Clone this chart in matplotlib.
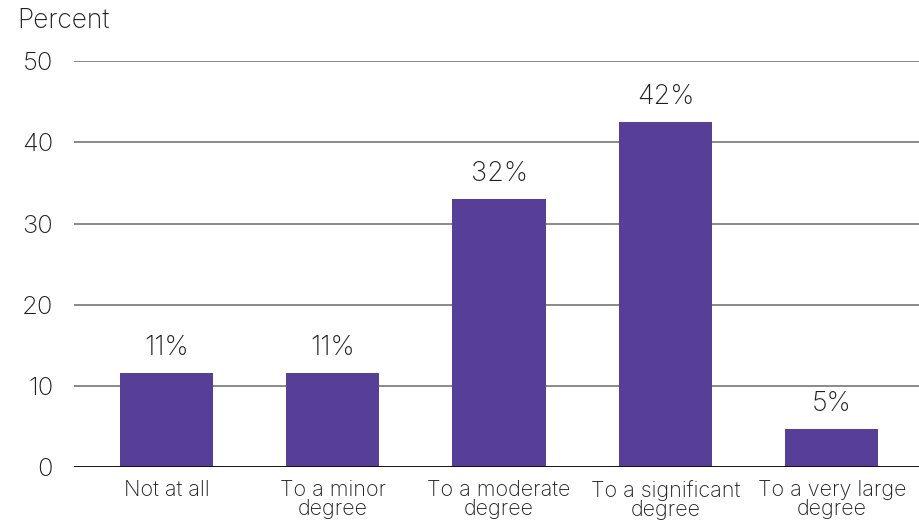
import matplotlib
matplotlib.use("Agg")
import matplotlib.pyplot as plt

categories = ["Not at all", "To a minor\ndegree", "To a moderate\ndegree",
              "To a significant\ndegree", "To a very large\ndegree"]
values = [11.6, 11.6, 33.0, 42.5, 4.7]
value_labels = ["11%", "11%", "32%", "42%", "5%"]
yticks = [0, 10, 20, 30, 40, 50]

plt.rcParams['font.family'] = ['Inter', 'DejaVu Sans']
W = "light"
BAR = "#573F98"
TXT = "#1e1e1e"

fig = plt.figure(figsize=(9.2, 5.23), dpi=100)
ax = fig.add_axes([74/920, (523-467.3)/523, (920-74)/920, (467.3-61)/523])

x = list(range(len(categories)))
ax.bar(x, values, width=0.56, color=BAR, zorder=3)
for xi, v, lab in zip(x, values, value_labels):
    ax.text(xi, v + 1.5, lab, ha="center", va="bottom", fontsize=19.5, color=TXT, fontweight=W)

ax.set_ylim(0, 50)
ax.set_xlim(-0.555, 4.53)
ax.set_yticks(yticks)
ax.set_yticklabels([str(t) for t in yticks], fontsize=18.5, color=TXT, fontweight=W)
ax.set_xticks(x)
ax.set_xticklabels(categories, fontsize=15.5, color=TXT, linespacing=0.95, fontweight=W)
ax.tick_params(axis="y", length=0, pad=15)
ax.tick_params(axis="x", length=0, pad=9)

for t in yticks[1:]:
    ax.axhline(t, color="#808080", linewidth=1.3, zorder=1)
ax.axhline(0, color="#111111", linewidth=1.4, zorder=4)

for s in ax.spines.values():
    s.set_visible(False)

fig.text(17/920, 1 - 21/523, "Percent", fontsize=19, color=TXT, ha="left", va="center", fontweight=W)

fig.savefig("out.png", dpi=100)
